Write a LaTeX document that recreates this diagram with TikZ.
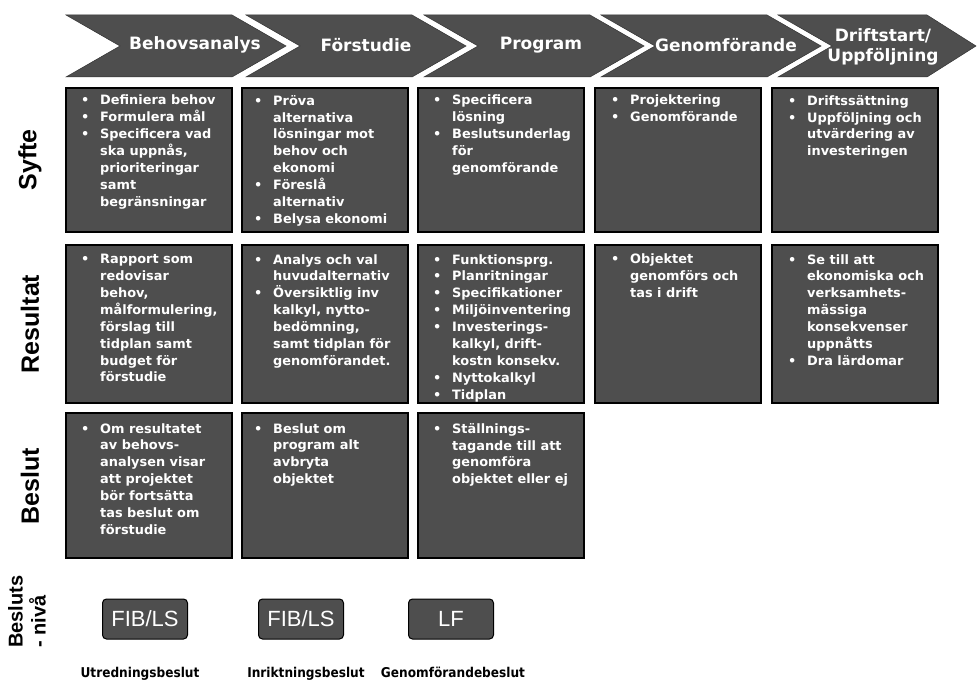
\documentclass[tikz,border=0pt]{standalone}
\usepackage{fontspec}
\setmainfont{DejaVu Sans}
\newfontfamily\arialf{Liberation Sans}
\newfontfamily\capfont{DejaVu Sans}[FakeStretch=0.9]
\definecolor{cellgray}{HTML}{4E4E4E}
\newcommand\bu{\llap{\makebox[19pt][l]{•}}}
\begin{document}
\begin{tikzpicture}[x=1pt,y=-1pt,
  chev/.style={fill=cellgray,draw=black!80,line width=0.5pt},
  cell/.style={fill=cellgray,draw=black,line width=1.3pt},
  hdr/.style={text=white,font=\fontsize{17}{20}\selectfont\bfseries,align=center,inner sep=0pt},
  txt/.style={anchor=north west,inner sep=0pt,align=left,text=white,font=\fontsize{12.9}{16.9}\selectfont\bfseries},
  rowlab/.style={rotate=90,font=\arialf\fontsize{25}{28}\selectfont\bfseries,inner sep=0pt},
  fib/.style={rounded corners=4pt,fill=cellgray,draw=black,line width=1pt,minimum width=85,minimum height=40,text=white,font=\arialf\fontsize{22}{24}\selectfont,inner sep=0pt},
  captxt/.style={anchor=base,inner sep=0pt,font=\capfont\fontsize{13.5}{15}\selectfont\bfseries}]
\useasboundingbox (0,0) rectangle (977,684);
% header chevrons
\foreach \L/\R/\D in {66/232/54,246/412/54,424/590/54,601/767/54,778/927/49}{
  \draw[chev] (\L,15) -- (\R,15) -- (\R+\D,46) -- (\R,77) -- (\L,77) -- (\L+54,46) -- cycle;
}
\node[hdr] (h1) at (195,45) {Behovsanalys};
\node[hdr] (h2) at (366,45) {Förstudie};
\node[hdr] (h3) at (541,45) {Program};
\node[hdr] (h4) at (726,45) {Genomförande};
\node[hdr] (h5) at (883,47) {Driftstart/\\Uppföljning};
% cells
\foreach \L in {66,242,418,595,772}{
  \draw[cell] (\L,88) rectangle (\L+166,232);
  \draw[cell] (\L,245) rectangle (\L+166,403);
}
\foreach \L in {66,242,418}{
  \draw[cell] (\L,413) rectangle (\L+166,558);
}
% row labels
\node[rowlab] (lsyfte) at (30,160) {Syfte};
\node[rowlab] (lres) at (30,324) {Resultat};
\node[rowlab] (lbes) at (30,486) {Beslut};
% Syfte
\node[txt] (s1) at (100,95) {\bu Definiera behov\\\bu Formulera mål\\\bu Specificera vad\\ska uppnås,\\prioriteringar\\samt\\begränsningar};
\node[txt] (s2) at (273,95) {\bu Pröva\\alternativa\\lösningar mot\\behov och\\ekonomi\\\bu Föreslå\\alternativ\\\bu Belysa ekonomi};
\node[txt] (s3) at (452,95) {\bu Specificera\\lösning\\\bu Beslutsunderlag\\för\\genomförande};
\node[txt] (s4) at (630,95) {\bu Projektering\\\bu Genomförande};
\node[txt] (s5) at (807,95) {\bu Driftssättning\\\bu Uppföljning och\\utvärdering av\\investeringen};
% Resultat
\node[txt] (r1) at (100,254) {\bu Rapport som\\redovisar\\behov,\\målformulering,\\förslag till\\tidplan samt\\budget för\\förstudie};
\node[txt] (r2) at (273,254) {\bu Analys och val\\huvudalternativ\\\bu Översiktlig inv\\kalkyl, nytto-\\bedömning,\\samt tidplan för\\genomförandet.};
\node[txt] (r3) at (452,254) {\bu Funktionsprg.\\\bu Planritningar\\\bu Specifikationer\\\bu Miljöinventering\\\bu Investerings-\\kalkyl, drift-\\kostn konsekv.\\\bu Nyttokalkyl\\\bu Tidplan};
\node[txt] (r4) at (630,254) {\bu Objektet\\genomförs och\\tas i drift};
\node[txt] (r5) at (807,254) {\bu Se till att\\ekonomiska och\\verksamhets-\\mässiga\\konsekvenser\\uppnåtts\\\bu Dra lärdomar};
% Beslut
\node[txt] (b1) at (100,423) {\bu Om resultatet\\av behovs-\\analysen visar\\att projektet\\bör fortsätta\\tas beslut om\\förstudie};
\node[txt] (b2) at (273,423) {\bu Beslut om\\program alt\\avbryta\\objektet};
\node[txt] (b3) at (452,423) {\bu Ställnings-\\tagande till att\\genomföra\\objektet eller ej};
% Beslutsnivå
\node[rotate=90,anchor=north west,align=left,inner sep=0pt,font=\arialf\fontsize{20}{23}\selectfont\bfseries] (lniva) at (8,648) {Besluts\\- nivå};
\node[fib] (f1) at (145,619) {FIB/LS};
\node[fib] (f2) at (301,619) {FIB/LS};
\node[fib] (f3) at (451,619) {LF};
\node[captxt] (c1) at (140,677) {Utredningsbeslut};
\node[captxt] (c2) at (306,677) {Inriktningsbeslut};
\node[captxt] (c3) at (453,677) {Genomförandebeslut};
\end{tikzpicture}
\end{document}
